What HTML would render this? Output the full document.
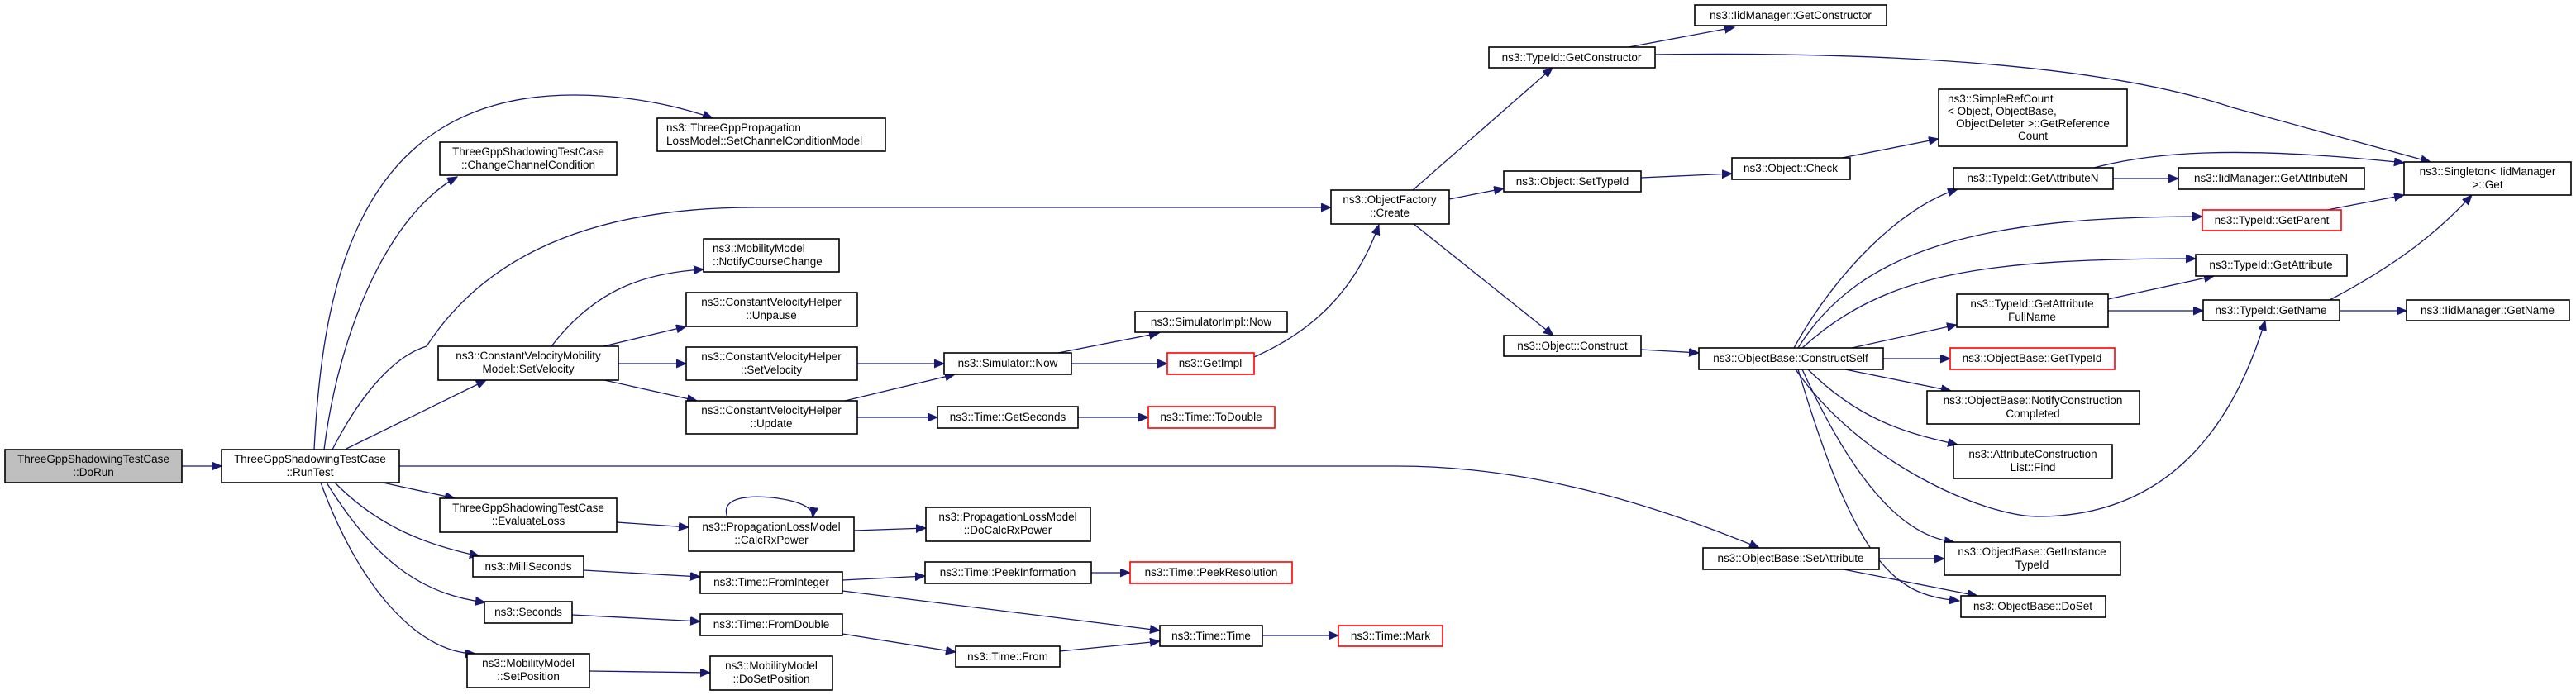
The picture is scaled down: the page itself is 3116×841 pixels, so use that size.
<!DOCTYPE html>
<html><head><meta charset="utf-8"><style>
html,body{margin:0;padding:0;background:#fff;}
svg{display:block;}
text{font-family:"Liberation Sans","DejaVu Sans",sans-serif;font-size:13.5px;fill:#000;}
.b{fill:#fff;stroke:#000;stroke-width:1.6;}
.r{fill:#fff;stroke:#ff0000;stroke-width:1.6;}
.e{fill:none;stroke:#191970;stroke-width:1.3;marker-end:url(#a);}
</style></head><body>
<svg width="3116" height="841" viewBox="0 0 3116 841" xmlns="http://www.w3.org/2000/svg">
<defs><marker id="a" markerUnits="userSpaceOnUse" markerWidth="14" markerHeight="12" refX="12" refY="5" orient="auto"><path d="M0,0 L12,5 L0,10 z" fill="#191970" stroke="#191970"/></marker></defs>

<!-- edges -->
<path class="e" d="M220,564 L268,564"/>
<path class="e" d="M380,544 C390,350 430,115 694,115 C760,115 820,128 862,143"/>
<path class="e" d="M392,544 C410,400 470,260 553,214"/>
<path class="e" d="M402,544 C440,470 480,430 516,419 C580,320 700,251 912,251 L1610,251"/>
<path class="e" d="M419,543 L588,460"/>
<path class="e" d="M483,564 L1690,564 C1850,564 2000,610 2128,663"/>
<path class="e" d="M463,584 L550,603"/>
<path class="e" d="M405,584 C460,640 520,660 580,673"/>
<path class="e" d="M395,584 C460,690 520,720 587,729"/>
<path class="e" d="M388,584 C430,700 500,790 575,791"/>
<path class="e" d="M667,419 C720,350 780,330 851,326"/>
<path class="e" d="M730,419 L830,395"/>
<path class="e" d="M748,440 L830,440"/>
<path class="e" d="M731,460 L843,485"/>
<path class="e" d="M1037,440 L1142,440"/>
<path class="e" d="M1022,485 L1155,453"/>
<path class="e" d="M1037,505 L1134,505"/>
<path class="e" d="M1280,427 L1402,403"/>
<path class="e" d="M1296,440 L1412,440"/>
<path class="e" d="M1517,432 C1590,400 1640,350 1668,272"/>
<path class="e" d="M1304,505 L1389,505"/>
<path class="e" d="M746,632 L833,638"/>
<path class="e" d="M880,626 C870,600 910,600 933,602 C960,605 985,612 983,626"/>
<path class="e" d="M1033,642 L1120,639"/>
<path class="e" d="M706,690 L847,698"/>
<path class="e" d="M1019,702 L1119,697"/>
<path class="e" d="M1019,715 L1403,763"/>
<path class="e" d="M692,744 L847,752"/>
<path class="e" d="M1019,767 L1156,789"/>
<path class="e" d="M1320,693 L1367,693"/>
<path class="e" d="M1282,788 L1403,776"/>
<path class="e" d="M1527,769 L1619,769"/>
<path class="e" d="M713,812 L859,814"/>
<path class="e" d="M1709,230 L1878,82"/>
<path class="e" d="M1753,241 L1819,228"/>
<path class="e" d="M1710,271 L1879,406"/>
<path class="e" d="M1970,57 L2098,33"/>
<path class="e" d="M2002,66 C2300,62 2550,80 2700,130 L2940,196"/>
<path class="e" d="M1985,215 L2095,210"/>
<path class="e" d="M2228,191 L2345,168"/>
<path class="e" d="M1985,423 L2055,427"/>
<path class="e" d="M2170,421 C2220,330 2300,250 2368,229"/>
<path class="e" d="M2175,421 C2250,300 2400,262 2664,262"/>
<path class="e" d="M2180,421 C2280,330 2400,313 2656,313"/>
<path class="e" d="M2240,421 L2367,393"/>
<path class="e" d="M2172,447 C2250,560 2400,625 2465,625 C2620,625 2700,520 2740,388"/>
<path class="e" d="M2278,434 L2359,434"/>
<path class="e" d="M2232,447 L2360,473"/>
<path class="e" d="M2187,447 C2250,510 2310,525 2368,538"/>
<path class="e" d="M2180,447 C2250,600 2310,650 2364,656"/>
<path class="e" d="M2175,447 C2250,700 2300,720 2370,727"/>
<path class="e" d="M2273,676 L2352,676"/>
<path class="e" d="M2230,689 L2392,721"/>
<path class="e" d="M2533,203 C2600,185 2700,175 2908,197"/>
<path class="e" d="M2556,216 L2635,216"/>
<path class="e" d="M2815,254 L2908,236"/>
<path class="e" d="M2550,362 L2678,334"/>
<path class="e" d="M2550,376 L2665,376"/>
<path class="e" d="M2818,363 C2900,320 2950,280 2990,236"/>
<path class="e" d="M2830,376 L2911,376"/>

<!-- nodes -->
<rect x="6" y="544" width="214" height="40" style="fill:#bfbfbf;stroke:#000;stroke-width:1.6"/>
<text x="113" y="560" text-anchor="middle">ThreeGppShadowingTestCase</text><text x="113" y="576" text-anchor="middle">::DoRun</text>

<rect class="b" x="268" y="544" width="215" height="40"/>
<text x="375" y="560" text-anchor="middle">ThreeGppShadowingTestCase</text><text x="375" y="576" text-anchor="middle">::RunTest</text>

<rect class="b" x="532" y="172" width="214" height="40"/>
<text x="639" y="188" text-anchor="middle">ThreeGppShadowingTestCase</text><text x="639" y="204" text-anchor="middle">::ChangeChannelCondition</text>

<rect class="b" x="795" y="143" width="276" height="40"/>
<text x="806" y="159">ns3::ThreeGppPropagation</text><text x="806" y="175">LossModel::SetChannelConditionModel</text>

<rect class="b" x="851" y="289" width="164" height="40"/>
<text x="862" y="305">ns3::MobilityModel</text><text x="862" y="321">::NotifyCourseChange</text>

<rect class="b" x="830" y="354" width="207" height="41"/>
<text x="933" y="370" text-anchor="middle">ns3::ConstantVelocityHelper</text><text x="933" y="386" text-anchor="middle">::Unpause</text>

<rect class="b" x="530" y="419" width="218" height="41"/>
<text x="639" y="435" text-anchor="middle">ns3::ConstantVelocityMobility</text><text x="639" y="451" text-anchor="middle">Model::SetVelocity</text>

<rect class="b" x="830" y="420" width="207" height="40"/>
<text x="933" y="436" text-anchor="middle">ns3::ConstantVelocityHelper</text><text x="933" y="452" text-anchor="middle">::SetVelocity</text>

<rect class="b" x="830" y="485" width="207" height="40"/>
<text x="933" y="501" text-anchor="middle">ns3::ConstantVelocityHelper</text><text x="933" y="517" text-anchor="middle">::Update</text>

<rect class="b" x="532" y="603" width="214" height="41"/>
<text x="639" y="619" text-anchor="middle">ThreeGppShadowingTestCase</text><text x="639" y="635" text-anchor="middle">::EvaluateLoss</text>

<rect class="b" x="833" y="626" width="200" height="41"/>
<text x="933" y="642" text-anchor="middle">ns3::PropagationLossModel</text><text x="933" y="658" text-anchor="middle">::CalcRxPower</text>

<rect class="b" x="572" y="673" width="134" height="25"/>
<text x="639" y="690" text-anchor="middle">ns3::MilliSeconds</text>

<rect class="b" x="847" y="692" width="172" height="26"/>
<text x="933" y="709" text-anchor="middle">ns3::Time::FromInteger</text>

<rect class="b" x="586" y="728" width="106" height="26"/>
<text x="639" y="745" text-anchor="middle">ns3::Seconds</text>

<rect class="b" x="847" y="743" width="172" height="26"/>
<text x="933" y="760" text-anchor="middle">ns3::Time::FromDouble</text>

<rect class="b" x="565" y="791" width="148" height="41"/>
<text x="639" y="807" text-anchor="middle">ns3::MobilityModel</text><text x="639" y="823" text-anchor="middle">::SetPosition</text>

<rect class="b" x="859" y="794" width="148" height="41"/>
<text x="933" y="810" text-anchor="middle">ns3::MobilityModel</text><text x="933" y="826" text-anchor="middle">::DoSetPosition</text>

<rect class="b" x="1610" y="230" width="143" height="41"/>
<text x="1681" y="246" text-anchor="middle">ns3::ObjectFactory</text><text x="1681" y="262" text-anchor="middle">::Create</text>

<rect class="b" x="1801" y="57" width="201" height="25"/>
<text x="1901" y="74" text-anchor="middle">ns3::TypeId::GetConstructor</text>

<rect class="b" x="1819" y="207" width="166" height="25"/>
<text x="1902" y="224" text-anchor="middle">ns3::Object::SetTypeId</text>

<rect class="b" x="1819" y="406" width="166" height="25"/>
<text x="1902" y="423" text-anchor="middle">ns3::Object::Construct</text>

<rect class="b" x="1373" y="377" width="184" height="25"/>
<text x="1465" y="394" text-anchor="middle">ns3::SimulatorImpl::Now</text>

<rect class="b" x="1142" y="427" width="154" height="26"/>
<text x="1219" y="444" text-anchor="middle">ns3::Simulator::Now</text>

<rect class="r" x="1412" y="427" width="105" height="26"/>
<text x="1464" y="444" text-anchor="middle">ns3::GetImpl</text>

<rect class="b" x="1134" y="492" width="170" height="26"/>
<text x="1219" y="509" text-anchor="middle">ns3::Time::GetSeconds</text>

<rect class="r" x="1389" y="492" width="153" height="26"/>
<text x="1465" y="509" text-anchor="middle">ns3::Time::ToDouble</text>

<rect class="b" x="1120" y="614" width="199" height="41"/>
<text x="1219" y="630" text-anchor="middle">ns3::PropagationLossModel</text><text x="1219" y="646" text-anchor="middle">::DoCalcRxPower</text>

<rect class="b" x="1119" y="680" width="201" height="26"/>
<text x="1219" y="697" text-anchor="middle">ns3::Time::PeekInformation</text>

<rect class="r" x="1367" y="680" width="196" height="26"/>
<text x="1465" y="697" text-anchor="middle">ns3::Time::PeekResolution</text>

<rect class="b" x="1403" y="757" width="124" height="25"/>
<text x="1465" y="774" text-anchor="middle">ns3::Time::Time</text>

<rect class="r" x="1619" y="757" width="126" height="25"/>
<text x="1682" y="774" text-anchor="middle">ns3::Time::Mark</text>

<rect class="b" x="1156" y="782" width="126" height="25"/>
<text x="1219" y="799" text-anchor="middle">ns3::Time::From</text>

<rect class="b" x="2060" y="663" width="213" height="26"/>
<text x="2166" y="680" text-anchor="middle">ns3::ObjectBase::SetAttribute</text>

<rect class="b" x="2050" y="6" width="232" height="25"/>
<text x="2166" y="23" text-anchor="middle">ns3::IidManager::GetConstructor</text>

<rect class="b" x="2095" y="191" width="143" height="26"/>
<text x="2166" y="208" text-anchor="middle">ns3::Object::Check</text>

<rect class="b" x="2345" y="108" width="228" height="69"/>
<text x="2356" y="124">ns3::SimpleRefCount</text><text x="2356" y="139">&lt; Object, ObjectBase,</text><text x="2459" y="154" text-anchor="middle">ObjectDeleter &gt;::GetReference</text><text x="2459" y="169" text-anchor="middle">Count</text>

<rect class="b" x="2363" y="203" width="193" height="26"/>
<text x="2459" y="220" text-anchor="middle">ns3::TypeId::GetAttributeN</text>

<rect class="b" x="2635" y="203" width="225" height="26"/>
<text x="2747" y="220" text-anchor="middle">ns3::IidManager::GetAttributeN</text>

<rect class="b" x="2908" y="196" width="202" height="40"/>
<text x="3009" y="212" text-anchor="middle">ns3::Singleton&lt; IidManager</text><text x="3009" y="228" text-anchor="middle">&gt;::Get</text>

<rect class="r" x="2664" y="254" width="168" height="25"/>
<text x="2748" y="271" text-anchor="middle">ns3::TypeId::GetParent</text>

<rect class="b" x="2656" y="308" width="183" height="26"/>
<text x="2747" y="325" text-anchor="middle">ns3::TypeId::GetAttribute</text>

<rect class="b" x="2367" y="356" width="183" height="40"/>
<text x="2458" y="372" text-anchor="middle">ns3::TypeId::GetAttribute</text><text x="2458" y="388" text-anchor="middle">FullName</text>

<rect class="b" x="2665" y="363" width="165" height="25"/>
<text x="2747" y="380" text-anchor="middle">ns3::TypeId::GetName</text>

<rect class="b" x="2911" y="363" width="197" height="25"/>
<text x="3009" y="380" text-anchor="middle">ns3::IidManager::GetName</text>

<rect class="b" x="2055" y="421" width="223" height="26"/>
<text x="2166" y="438" text-anchor="middle">ns3::ObjectBase::ConstructSelf</text>

<rect class="r" x="2359" y="421" width="199" height="26"/>
<text x="2458" y="438" text-anchor="middle">ns3::ObjectBase::GetTypeId</text>

<rect class="b" x="2331" y="473" width="257" height="40"/>
<text x="2459" y="489" text-anchor="middle">ns3::ObjectBase::NotifyConstruction</text><text x="2459" y="505" text-anchor="middle">Completed</text>

<rect class="b" x="2363" y="538" width="192" height="41"/>
<text x="2459" y="554" text-anchor="middle">ns3::AttributeConstruction</text><text x="2459" y="570" text-anchor="middle">List::Find</text>

<rect class="b" x="2352" y="656" width="213" height="40"/>
<text x="2458" y="672" text-anchor="middle">ns3::ObjectBase::GetInstance</text><text x="2458" y="688" text-anchor="middle">TypeId</text>

<rect class="b" x="2372" y="721" width="175" height="26"/>
<text x="2459" y="738" text-anchor="middle">ns3::ObjectBase::DoSet</text>
</svg>
</body></html>
